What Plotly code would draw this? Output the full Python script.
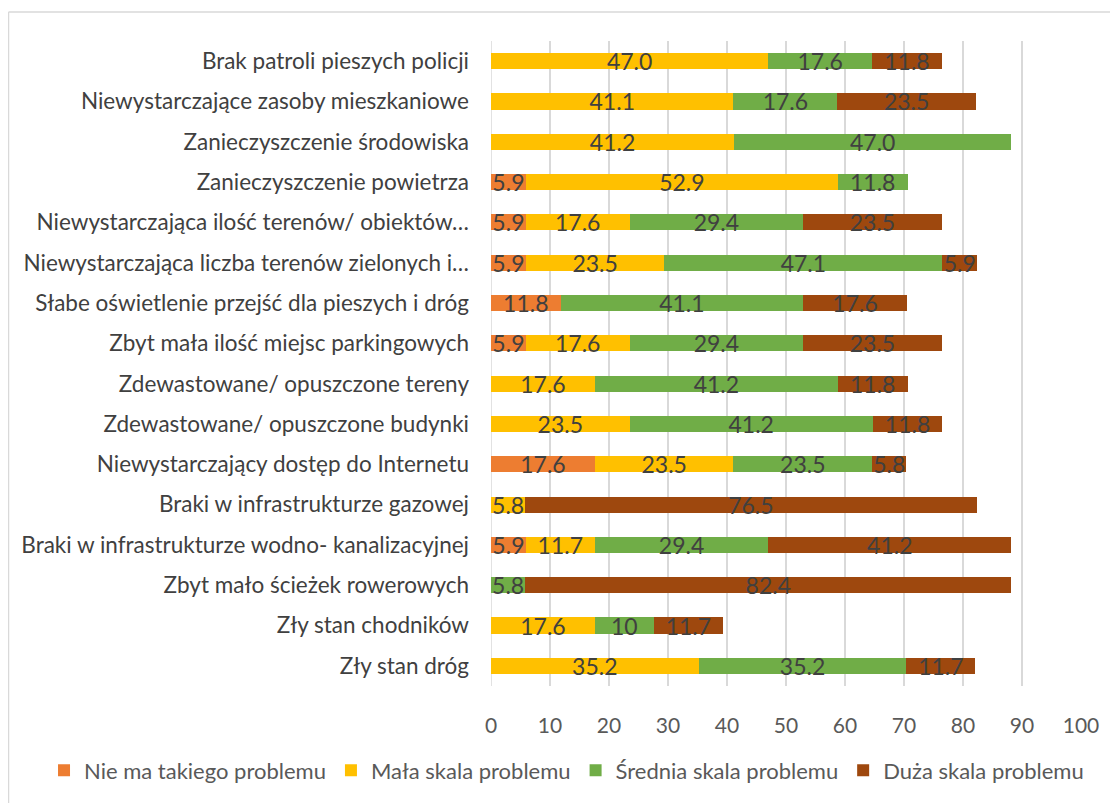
import plotly.graph_objects as go

categories = [
    "Brak patroli pieszych policji",
    "Niewystarczające zasoby mieszkaniowe",
    "Zanieczyszczenie środowiska",
    "Zanieczyszczenie powietrza",
    "Niewystarczająca ilość terenów/ obiektów…",
    "Niewystarczająca liczba terenów zielonych i…",
    "Słabe oświetlenie przejść dla pieszych i dróg",
    "Zbyt mała ilość miejsc parkingowych",
    "Zdewastowane/ opuszczone tereny",
    "Zdewastowane/ opuszczone budynki",
    "Niewystarczający dostęp do Internetu",
    "Braki w infrastrukturze gazowej",
    "Braki w infrastrukturze wodno- kanalizacyjnej",
    "Zbyt mało ścieżek rowerowych",
    "Zły stan chodników",
    "Zły stan dróg",
]

# values as printed on the chart ("" = no segment)
nie_ma = ["", "", "", "5.9", "5.9", "5.9", "11.8", "5.9", "", "", "17.6", "", "5.9", "", "", ""]
mala = ["47.0", "41.1", "41.2", "52.9", "17.6", "23.5", "", "17.6", "17.6", "23.5", "23.5", "5.8", "11.7", "", "17.6", "35.2"]
srednia = ["17.6", "17.6", "47.0", "11.8", "29.4", "47.1", "41.1", "29.4", "41.2", "41.2", "23.5", "", "29.4", "5.8", "10", "35.2"]
duza = ["11.8", "23.5", "", "", "23.5", "5.9", "17.6", "23.5", "11.8", "11.8", "5.8", "76.5", "41.2", "82.4", "11.7", "11.7"]

series_names = ["Nie ma takiego problemu", "Mała skala problemu",
                "Średnia skala problemu", "Duża skala problemu"]
series_values = [nie_ma, mala, srednia, duza]
series_colors = ["#ED7D31", "#FFC000", "#70AD47", "#9E480E"]

x_ticks = [0, 10, 20, 30, 40, 50, 60, 70, 80, 90, 100]

FONT = "Lato, 'Open Sans', sans-serif"

fig = go.Figure()
for name, vals, color in zip(series_names, series_values, series_colors):
    fig.add_trace(go.Bar(
        name=name,
        y=categories,
        x=[float(v) if v else None for v in vals],
        text=vals,
        orientation="h",
        marker=dict(color=color, line=dict(width=0)),
        textposition="inside",
        insidetextanchor="middle",
        textangle=0,
        textfont=dict(color="#404040", size=23, family=FONT),
        constraintext="none",
        cliponaxis=False,
    ))

fig.update_layout(
    barmode="stack",
    bargap=0.6,
    width=1110,
    height=795,
    paper_bgcolor="white",
    plot_bgcolor="white",
    margin=dict(l=483, r=37, t=33, b=115),
    font=dict(family=FONT, color="#595959"),
    uniformtext=dict(minsize=23, mode="show"),
    legend=dict(
        orientation="h",
        x=-0.7576, xanchor="left",
        y=-0.131, yanchor="middle",
        font=dict(size=22, color="#595959", family=FONT),
        traceorder="normal",
        itemwidth=30,
    ),
    xaxis=dict(
        range=[0, 100],
        tickvals=x_ticks,
        showgrid=True,
        gridcolor="#D9D9D9",
        gridwidth=1.5,
        zeroline=False,
        showline=False,
        tickfont=dict(size=21, color="#595959"),
        ticks="",
        ticklabelstandoff=25,
        fixedrange=True,
        automargin=False,
    ),
    yaxis=dict(
        autorange="reversed",
        showgrid=False,
        ticks="",
        tickfont=dict(size=22.5, color="#404040"),
        ticklabelstandoff=21,
        fixedrange=True,
        automargin=False,
    ),
    shapes=[
        dict(type="line", xref="x", yref="paper", x0=0, x1=0, y0=0, y1=1,
             line=dict(color="#D9D9D9", width=1.5), layer="below"),
        dict(type="line", xref="paper", yref="paper",
             x0=-0.8178, x1=1.07, y0=1.0448, y1=1.0448,
             line=dict(color="#D9D9D9", width=1.5)),
        dict(type="line", xref="paper", yref="paper",
             x0=-0.8178, x1=-0.8178, y0=-0.19, y1=1.0448,
             line=dict(color="#D9D9D9", width=1.5)),
    ],
)

fig.write_html("out.html")
